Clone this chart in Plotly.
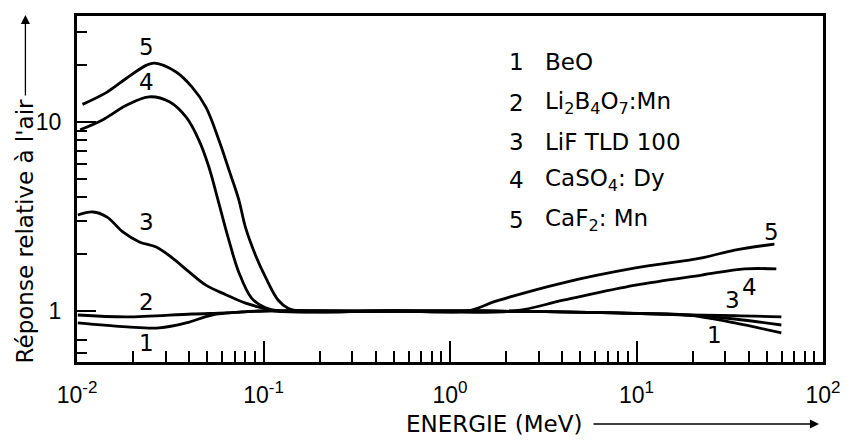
import plotly.graph_objects as go

# Energy response of TL dosimeters relative to air (log-log)
energy_beo = [0.0101, 0.0185, 0.0276, 0.0385, 0.0529, 0.0764, 0.094, 0.5, 1.5, 7.73, 18.9, 33.6, 59.8]
resp_beo = [0.864, 0.823, 0.813, 0.864, 0.952, 0.988, 1.0, 1.0, 1.0, 0.976, 0.952, 0.864, 0.765]

energy_li2b4o7 = [0.0101, 0.0185, 0.0414, 0.0628, 0.1025, 0.5, 1.5, 7.73, 18.9, 33.6, 59.8]
resp_li2b4o7 = [0.952, 0.93, 0.964, 0.976, 1.0, 1.0, 1.0, 0.976, 0.952, 0.907, 0.843]

energy_lif = [0.0101, 0.0122, 0.0145, 0.0176, 0.0216, 0.0266, 0.0324, 0.0399, 0.0491,
              0.0628, 0.0802, 0.0976, 0.113, 0.5, 1.5, 7.73, 18.9, 33.6, 59.8]
resp_lif = [3.22, 3.34, 3.14, 2.62, 2.32, 2.18, 1.91, 1.61, 1.37,
            1.22, 1.10, 1.04, 1.0, 1.0, 1.0, 0.976, 0.952, 0.945, 0.93]

energy_caso4 = [0.0104, 0.0137, 0.0185, 0.0244, 0.0313, 0.0385, 0.0451, 0.0509, 0.0577,
                0.0652, 0.0736, 0.0863, 0.1025, 0.120, 0.5, 2.19, 4.04, 9.88, 22.4, 38.0, 56.2]
resp_caso4 = [9.1, 10.25, 12.3, 13.6, 12.8, 10.6, 8.0, 5.8, 3.7,
              2.37, 1.61, 1.17, 1.04, 1.0, 1.0, 1.0, 1.14, 1.37, 1.55, 1.67, 1.67]

energy_caf2 = [0.0107, 0.0145, 0.0185, 0.0236, 0.026, 0.034, 0.0414, 0.0491, 0.0577, 0.0652,
               0.0736, 0.0802, 0.0905, 0.1025, 0.120, 0.136, 0.153, 0.5, 1.23, 1.78, 4.04,
               9.88, 22.4, 33.6, 54.9]
resp_caf2 = [12.4, 14.4, 17.1, 20.0, 20.5, 18.4, 15.3, 12.0, 8.0, 5.6,
             3.9, 2.75, 1.98, 1.51, 1.14, 1.03, 1.0, 1.0, 1.0, 1.13, 1.41,
             1.69, 1.91, 2.10, 2.26]

curve_numbers = ["1", "2", "3", "4", "5"]
material_names = ["BeO", "Li<sub>2</sub>B<sub>4</sub>O<sub>7</sub>:Mn", "LiF TLD 100",
                  "CaSO<sub>4</sub>: Dy", "CaF<sub>2</sub>: Mn"]

x_tick_vals = [0.01, 0.1, 1, 10, 100]
x_tick_exps = ["-2", "-1", "0", "1", "2"]
x_tick_text = ["10<sup><span style='font-size:17px'>%s</span></sup>" % e for e in x_tick_exps]
y_tick_vals = [1, 10]
y_tick_text = ["1", "10"]

x_minor = [k * 10.0 ** d for d in range(-2, 2) for k in range(2, 10)]
y_minor = [0.6, 0.7, 2, 3, 4, 5, 6, 7, 8, 9, 20, 30]

W, H = 853, 442
L, R, T, B = 77, 24, 16, 80
PW, PH = W - L - R, H - T - B


def px(xp):
    return (xp - L) / PW


def py(yp):
    return (H - B - yp) / PH


series = [
    (energy_beo, resp_beo),
    (energy_li2b4o7, resp_li2b4o7),
    (energy_lif, resp_lif),
    (energy_caso4, resp_caso4),
    (energy_caf2, resp_caf2),
]

fig = go.Figure()
for (ex, ry), num in zip(series, curve_numbers):
    fig.add_trace(go.Scatter(
        x=ex, y=ry, mode="lines", name=num,
        line=dict(color="black", width=2.8, shape="spline", smoothing=1.0),
        showlegend=False, hoverinfo="skip",
    ))

tick_font = dict(family="Liberation Sans, Arial, sans-serif", size=23, color="black")
text_font = dict(family="DejaVu Sans, sans-serif", size=23, color="black")

fig.update_xaxes(
    type="log", range=[-2, 2],
    tickvals=x_tick_vals, ticktext=x_tick_text,
    ticks="inside", ticklen=21, tickwidth=2, tickcolor="black",
    minor=dict(tickvals=x_minor, ticks="inside", ticklen=11, tickwidth=2, tickcolor="black"),
    showline=True, linewidth=3, linecolor="black", mirror=True,
    showgrid=False, zeroline=False, tickfont=tick_font, ticklabelstandoff=10,
)
fig.update_yaxes(
    type="log", range=[-0.270, 1.561],
    tickvals=y_tick_vals, ticktext=y_tick_text,
    ticks="inside", ticklen=19, tickwidth=2, tickcolor="black",
    minor=dict(tickvals=y_minor, ticks="inside", ticklen=10, tickwidth=2, tickcolor="black"),
    showline=True, linewidth=3, linecolor="black", mirror=True,
    showgrid=False, zeroline=False, tickfont=tick_font, ticklabelstandoff=8,
)

ann = []
# curve numbers next to the lines (log10 data coordinates)
curve_labels = [
    ("5", -1.628, 1.397), ("4", -1.628, 1.212), ("3", -1.628, 0.471),
    ("2", -1.628, 0.048), ("1", -1.628, -0.169),
    ("5", 1.723, 0.418), ("4", 1.606, 0.127), ("3", 1.516, 0.058), ("1", 1.420, -0.127),
]
for t, lx, ly in curve_labels:
    ann.append(dict(text=t, x=lx, y=ly, xref="x", yref="y", showarrow=False,
                    font=text_font, xanchor="center", yanchor="middle"))

# key: number + material
row_y = [62, 103, 142, 180, 220]
for num, name, yp in zip(curve_numbers, material_names, row_y):
    ann.append(dict(text=num, x=px(520), y=py(yp), xref="paper", yref="paper",
                    showarrow=False, font=text_font, xanchor="center", yanchor="middle"))
    ann.append(dict(text=name, x=px(547), y=py(yp), xref="paper", yref="paper",
                    showarrow=False, font=text_font, xanchor="left", yanchor="middle"))

# axis titles with arrows
ann.append(dict(text="Réponse relative à l'air", x=px(25), y=py(231), xref="paper", yref="paper",
                showarrow=False, textangle=-90, font=dict(family="DejaVu Sans, sans-serif", size=23, color="black"),
                xanchor="center", yanchor="middle"))
ann.append(dict(text="", x=px(25), y=py(15), xref="paper", yref="paper",
                showarrow=True, ax=0, ay=82, arrowhead=2, arrowsize=1.4, arrowwidth=1.3,
                arrowcolor="black", standoff=0, startstandoff=0))
ann.append(dict(text="ENERGIE (MeV)", x=px(497), y=py(424), xref="paper", yref="paper",
                showarrow=False, font=dict(family="DejaVu Sans, sans-serif", size=23, color="black"),
                xanchor="center", yanchor="middle"))
ann.append(dict(text="", x=px(825), y=py(424), xref="paper", yref="paper",
                showarrow=True, ax=-227, ay=0, arrowhead=2, arrowsize=1.4, arrowwidth=1.3,
                arrowcolor="black", standoff=0, startstandoff=0))

fig.update_layout(
    width=W, height=H,
    margin=dict(l=L, r=R, t=T, b=B),
    paper_bgcolor="white", plot_bgcolor="white",
    annotations=ann,
)

fig.write_html("out.html")
